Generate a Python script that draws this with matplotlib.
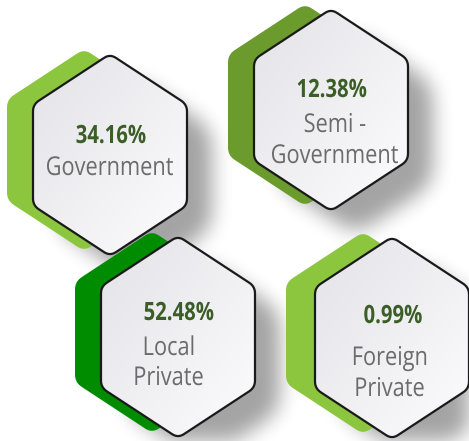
import numpy as np
import matplotlib
matplotlib.use("Agg")
import matplotlib.pyplot as plt
from matplotlib.path import Path
from matplotlib.patches import PathPatch
from matplotlib.textpath import TextPath
from matplotlib.font_manager import FontProperties
from matplotlib.transforms import Affine2D

# data
percents = ["34.16%", "12.38%", "52.48%", "0.99%"]
labels = [["Government"], ["Semi -", "Government"], ["Local", "Private"], ["Foreign", "Private"]]
green_colors = ["#8cc63f", "#6b9b2c", "#008c00", "#8cc63f"]

# layout (pixel coords, y downwards)
centers = [(110, 155), (331, 110), (178, 337), (392, 338)]
back_offsets = [(-26, -5), (-26, -5), (-26, -5), (-29, -5)]
# baselines relative to hex centre: percent, label lines
pct_base = [-12, -13, -17, -15]
lab_base = [[20], [22, 53], [18, 48], [27, 58]]
lab_dx = [0, 4, -9, -2]
R, W = 101, 77


def hex_pts(cx, cy):
    return np.array([(cx, cy - R), (cx + W, cy - R / 2), (cx + W, cy + R / 2),
                     (cx, cy + R), (cx - W, cy + R / 2), (cx - W, cy - R / 2)])


def rounded(pts, r=6, n=8):
    # cut every corner with a small arc
    out = []
    k = len(pts)
    for i in range(k):
        p0, p1, p2 = pts[i - 1], pts[i], pts[(i + 1) % k]
        a = p1 + (p0 - p1) / np.linalg.norm(p0 - p1) * r
        b = p1 + (p2 - p1) / np.linalg.norm(p2 - p1) * r
        for t in np.linspace(0, 1, n):
            out.append((1 - t) ** 2 * a + 2 * t * (1 - t) * p1 + t ** 2 * b)
    out.append(out[0])
    return np.array(out)


def box_blur(img, k):
    ker = np.ones(k) / k
    for _ in range(3):
        img = np.apply_along_axis(lambda m: np.convolve(m, ker, mode="same"), 0, img)
        img = np.apply_along_axis(lambda m: np.convolve(m, ker, mode="same"), 1, img)
    return img


fp_reg = FontProperties(family="Open Sans")
fp_bold = FontProperties(family="Open Sans", weight="bold")


def tp_ext(s, fp):
    return TextPath((0, 0), s, size=100, prop=fp).get_extents()


# narrow, Calibri-like text: scale to cap height, then squeeze horizontally
cap_reg = tp_ext("H", fp_reg).height
cap_bold = tp_ext("H", fp_bold).height
sc_reg = 18.5 / cap_reg
sc_bold = 18 / cap_bold
sx_reg = 126 / (tp_ext("Government", fp_reg).width * sc_reg)
sx_bold = 69 / (tp_ext("34.16%", fp_bold).width * sc_bold)


def draw_text(ax, x, base, s, fp, sc, sx, color, z):
    tp = TextPath((0, 0), s, size=100, prop=fp)
    e = tp.get_extents()
    w = e.width * sc * sx
    tr = Affine2D().translate(-e.x0, 0).scale(sc * sx, -sc).translate(x - w / 2, base)
    p = tr.transform_path(tp)
    ax.add_patch(PathPatch(p, facecolor=color, edgecolor="none", zorder=z))


fig = plt.figure(figsize=(4.69, 4.41), dpi=100)
ax = fig.add_axes([0, 0, 1, 1])
ax.set_xlim(0, 469)
ax.set_ylim(441, 0)
ax.axis("off")

# soft drop shadows
yy, xx = np.mgrid[0:441, 0:469]
grid = np.column_stack([xx.ravel() + 0.5, yy.ravel() + 0.5])
mask = np.zeros((441, 469))
for cx, cy in centers:
    sp = Path(rounded(hex_pts(cx + 25, cy + 24), r=20))
    mask = np.maximum(mask, sp.contains_points(grid).reshape(441, 469))
pad = 80
big = np.pad(mask, pad)
shadow = box_blur(big, 19)[pad:-pad, pad:-pad]
rgba = np.zeros((441, 469, 4))
rgba[..., 3] = shadow * 0.36
ax.imshow(rgba, extent=(0, 469, 441, 0), zorder=1, interpolation="bilinear")

# gradient for the hexagon faces
gy, gx = np.mgrid[0:1:100j, 0:1:100j]
g = (gx + gy) / 2
face = np.zeros((100, 100, 3))
c0 = np.array([0.89, 0.89, 0.91])
c1 = np.array([0.99, 0.99, 0.995])
for i in range(3):
    face[..., i] = c0[i] + (c1[i] - c0[i]) * g

for i, (cx, cy) in enumerate(centers):
    z = 2 + i * 3
    ox, oy = back_offsets[i]
    back = PathPatch(Path(rounded(hex_pts(cx + ox, cy + oy), r=8)), facecolor=green_colors[i],
                     edgecolor="none", zorder=z)
    ax.add_patch(back)

    pts = rounded(hex_pts(cx, cy), r=7)
    front = PathPatch(Path(pts), facecolor="none", edgecolor="#1a1a1a", lw=1.6,
                      joinstyle="round", zorder=z + 2)
    ax.add_patch(front)
    im = ax.imshow(face, extent=(cx - W, cx + W, cy + R, cy - R), zorder=z + 1,
                   interpolation="bilinear")
    clip = PathPatch(Path(pts), transform=ax.transData, facecolor="none", edgecolor="none")
    ax.add_patch(clip)
    im.set_clip_path(clip)

    draw_text(ax, cx + 1, cy + pct_base[i], percents[i], fp_bold, sc_bold, sx_bold,
              "#3b5e26", z + 2)
    for line, b in zip(labels[i], lab_base[i]):
        draw_text(ax, cx + lab_dx[i], cy + b, line, fp_reg, sc_reg, sx_reg, "#6b6b6b", z + 2)

ax.set_xlim(0, 469)
ax.set_ylim(441, 0)
fig.savefig("out.png", dpi=100)
